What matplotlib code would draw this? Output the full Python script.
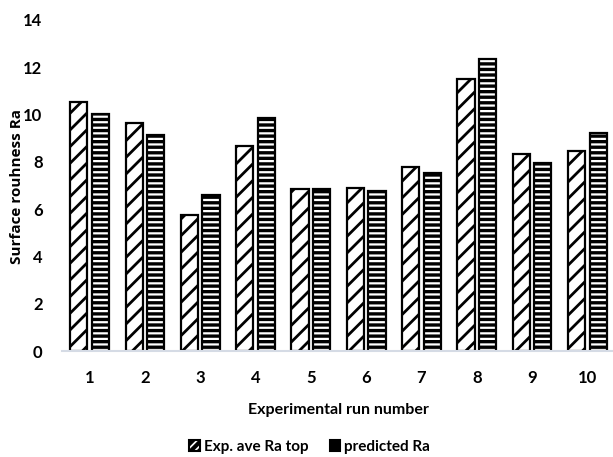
import numpy as np
import matplotlib
matplotlib.use("Agg")
import matplotlib.pyplot as plt
from matplotlib.patches import Patch

# values
runs = ["1", "2", "3", "4", "5", "6", "7", "8", "9", "10"]
exp_ra = [10.54, 9.65, 5.75, 8.67, 6.85, 6.90, 7.79, 11.49, 8.33, 8.47]
pred_ra = [10.02, 9.12, 6.60, 9.86, 6.86, 6.78, 7.54, 12.33, 7.96, 9.23]
yticks = [0, 2, 4, 6, 8, 10, 12, 14]

plt.rcParams['font.family'] = ['Lato', 'DejaVu Sans']
plt.rcParams['font.weight'] = 'bold'

fig = plt.figure(figsize=(6.13, 4.57), dpi=100)
ax = fig.add_axes([62 / 613, 1 - 351 / 457, 553 / 613, 331 / 457])

x = np.arange(len(runs))
w = 0.31
off = 0.195

# hatch linewidth is picked up when each patch is made
plt.rcParams['hatch.linewidth'] = 2.0
ax.bar(x - off, exp_ra, w, facecolor='white', edgecolor='black',
       linewidth=1.6, hatch='//')
plt.rcParams['hatch.linewidth'] = 2.4
ax.bar(x + off, pred_ra, w, facecolor='white', edgecolor='black',
       linewidth=1.6, hatch='---')

ax.set_xlim(-0.5, len(runs) - 0.5)
ax.set_ylim(0, 14)
ax.set_xticks(x)
ax.set_xticklabels(runs)
ax.set_yticks(yticks)
ax.tick_params(axis='both', length=0, labelsize=12)
ax.tick_params(axis='y', pad=14)
ax.tick_params(axis='x', pad=14)

for s in ['top', 'right', 'left']:
    ax.spines[s].set_visible(False)
ax.spines['bottom'].set_color('#d5dbe5')
ax.spines['bottom'].set_linewidth(1.5)

ax.set_xlabel('Experimental run number', fontsize=11.5, fontweight='bold', labelpad=12)
fig.text(0.027, (1 - 186 / 457), 'Surface rouhness Ra', rotation=90,
         ha='center', va='center', fontsize=11, fontweight='bold',
         family=['Open Sans', 'DejaVu Sans'])

# small dark legend keys like the reference
plt.rcParams['hatch.linewidth'] = 3.0
handles = [
    Patch(facecolor='white', edgecolor='black', linewidth=1.5, hatch='////',
          label='Exp. ave Ra top'),
    Patch(facecolor='black', edgecolor='black', linewidth=1.5,
          label='predicted Ra'),
]
fig.legend(handles=handles, loc='center', bbox_to_anchor=(0.505, 1 - 447 / 457),
           ncol=2, frameon=False, fontsize=11, handlelength=0.7, handleheight=0.7,
           handletextpad=0.25, columnspacing=1.4, borderpad=0)

fig.savefig('out.png', dpi=100)
